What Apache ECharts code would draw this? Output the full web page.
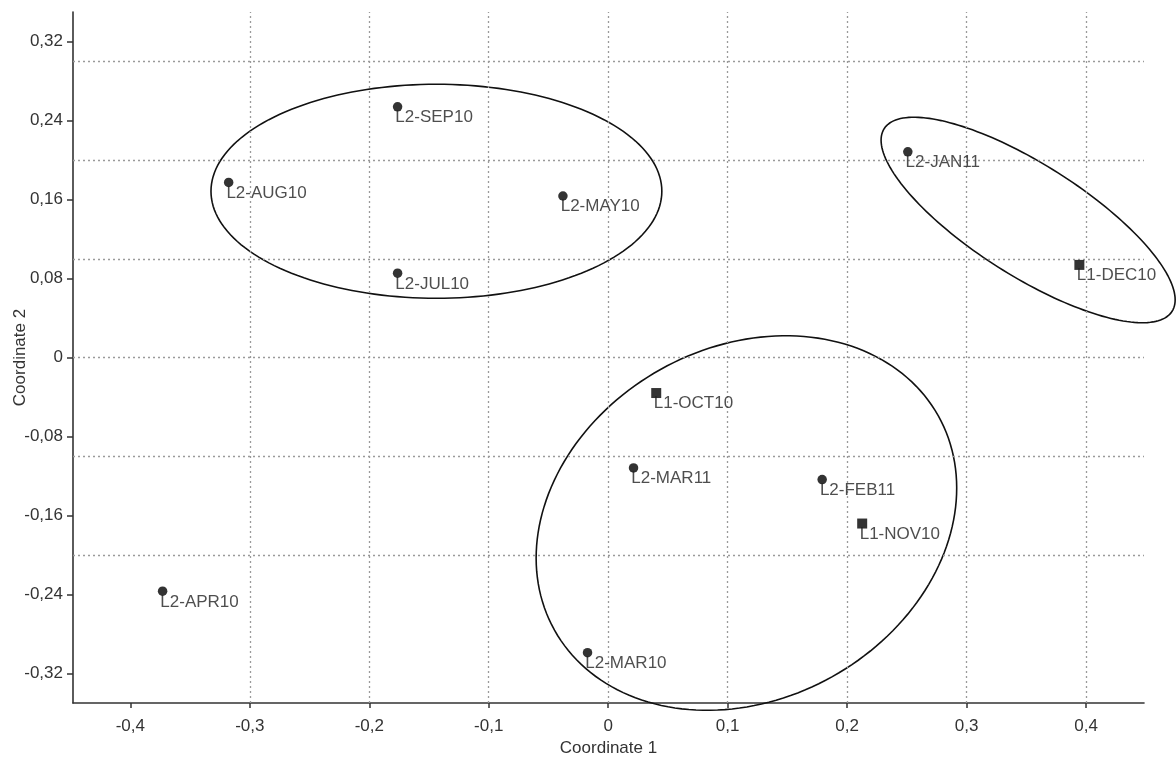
<!DOCTYPE html>
<html>
<head>
<meta charset="utf-8">
<script src="https://cdn.jsdelivr.net/npm/echarts@6/dist/echarts.min.js"></script>
<style>
html,body{margin:0;padding:0;background:#fff;}
#chart{width:1176px;height:758px;}
</style>
</head>
<body>
<div id="chart"></div>
<script>
// ---- data ----
const pointLabels = ['L2-SEP10','L2-AUG10','L2-MAY10','L2-JUL10','L2-JAN11','L1-DEC10','L1-OCT10','L2-MAR11','L2-FEB11','L1-NOV10','L2-APR10','L2-MAR10'];
const coord1 = [-0.1763,-0.3177,-0.0379,-0.1763,0.2508,0.3944,0.0402,0.0212,0.1791,0.2126,-0.3730,-0.0173];
const coord2 = [0.2539,0.1774,0.1636,0.0854,0.2084,0.0938,-0.0360,-0.1119,-0.1237,-0.1682,-0.2367,-0.2990];

// ellipse groups: centre and two half-axis vectors (data units)
const ellipseCenterX = [-0.1438, 0.3515, 0.1157];
const ellipseCenterY = [0.1684, 0.1393, -0.1677];
const ellipseAxisAX  = [0.1887, 0.1205, 0.16065];
const ellipseAxisAY  = [0.0, -0.0925, 0.10852];
const ellipseAxisBX  = [0.0, -0.02506, 0.07193];
const ellipseAxisBY  = [0.1084, -0.04775, -0.15559];

const xTicks = [-0.4,-0.3,-0.2,-0.1,0,0.1,0.2,0.3,0.4];
const yTicks = [-0.32,-0.24,-0.16,-0.08,0,0.08,0.16,0.24,0.32];
const xGridLines = [-0.3,-0.2,-0.1,0,0.1,0.2,0.3,0.4];
const yGridLines = [-0.2,-0.1,0,0.1,0.2,0.3];

// ---- build ----
const FONT = '"Liberation Sans", Arial, sans-serif';
const fmt = v => String(Math.round(v*100)/100).replace('.', ',');

const circleData = [], squareData = [];
pointLabels.forEach((n,i) => {
  const item = {name:n, value:[coord1[i], coord2[i]]};
  if (n.startsWith('L1')) squareData.push(item); else circleData.push(item);
});

const ellipseData = ellipseCenterX.map((c,i) => [c, ellipseCenterY[i], ellipseAxisAX[i], ellipseAxisAY[i], ellipseAxisBX[i], ellipseAxisBY[i]]);

function renderEllipse(params, api) {
  const cx = api.value(0), cy = api.value(1);
  const ax = api.value(2), ay = api.value(3), bx = api.value(4), by = api.value(5);
  const pts = [];
  const N = 180;
  for (let k = 0; k <= N; k++) {
    const t = k / N * Math.PI * 2;
    const c = Math.cos(t), s = Math.sin(t);
    pts.push(api.coord([cx + ax*c + bx*s, cy + ay*c + by*s]));
  }
  return {type:'polyline', shape:{points:pts}, style:{fill:null, stroke:'#111', lineWidth:1.6}};
}

const pointLabel = {
  show:true, formatter:'{b}', position:[2.5, 15.5], align:'left', verticalAlign:'middle',
  color:'#222', fontSize:17, fontFamily:FONT
};

const chart = echarts.init(document.getElementById('chart'), null, {renderer:'canvas'});
chart.setOption({
  animation:false,
  backgroundColor:'#fff',
  grid:{left:73, top:12, right:32, bottom:55, containLabel:false, outerBoundsMode:'none'},
  xAxis:{
    type:'value', min:-0.448, max:0.4485,
    name:'Coordinate 1', nameLocation:'middle', nameGap:37, nameMoveOverlap:false,
    nameTextStyle:{color:'#333', fontSize:17, fontFamily:FONT},
    axisLine:{show:true, onZero:false, lineStyle:{color:'#333', width:1.6}},
    axisTick:{show:true, length:5, customValues:xTicks, lineStyle:{color:'#333', width:1.5}},
    axisLabel:{customValues:xTicks, formatter:fmt, color:'#333', fontSize:17, fontFamily:FONT, margin:15, showMinLabel:true, showMaxLabel:true},
    splitLine:{show:false}
  },
  yAxis:{
    type:'value', min:-0.35, max:0.35,
    name:'Coordinate 2', nameLocation:'middle', nameGap:44, nameRotate:90, nameMoveOverlap:false,
    nameTextStyle:{color:'#333', fontSize:17, fontFamily:FONT},
    axisLine:{show:true, onZero:false, lineStyle:{color:'#333', width:1.6}},
    axisTick:{show:true, length:6, customValues:yTicks, lineStyle:{color:'#333', width:1.5}},
    axisLabel:{customValues:yTicks, formatter:fmt, color:'#333', fontSize:17, fontFamily:FONT, margin:10},
    splitLine:{show:false}
  },
  series:[
    {
      type:'line', data:[], z:1, silent:true,
      markLine:{
        silent:true, symbol:'none', animation:false,
        label:{show:false},
        lineStyle:{type:[2,3], color:'#9a9a9a', width:1.3},
        data:[...xGridLines.map(v => ({xAxis:v})), ...yGridLines.map(v => ({yAxis:v}))]
      }
    },
    {
      type:'custom', renderItem:renderEllipse, data:ellipseData, z:3, silent:true, clip:false,
      encode:{x:0, y:1}
    },
    {
      type:'scatter', data:circleData, symbol:'circle', symbolSize:9.5, z:5,
      itemStyle:{color:'#000'}, label:pointLabel
    },
    {
      type:'scatter', data:squareData, symbol:'rect', symbolSize:10, z:5,
      itemStyle:{color:'#000'}, label:pointLabel
    }
  ]
});
</script>
</body>
</html>
